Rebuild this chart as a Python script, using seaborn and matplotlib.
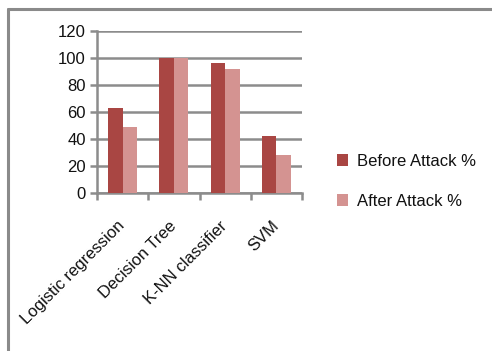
import matplotlib
matplotlib.use("Agg")
import matplotlib.pyplot as plt
from matplotlib.lines import Line2D
import seaborn as sns
import pandas as pd

categories = ["Logistic regression", "Decision Tree", "K-NN classifier", "SVM"]
before_attack = [63, 100, 96, 42]
after_attack = [49, 100, 92, 28]
series_names = ["Before Attack %", "After Attack %"]
y_ticks = [0, 20, 40, 60, 80, 100, 120]

df = pd.DataFrame({
    "model": categories * 2,
    "value": before_attack + after_attack,
    "series": [series_names[0]] * len(categories) + [series_names[1]] * len(categories),
})

sns.set_theme(style="white")
plt.rcParams["font.family"] = ["Liberation Sans", "DejaVu Sans"]

W, H = 492, 351
fig = plt.figure(figsize=(W / 100, H / 100), dpi=100)
ax = fig.add_axes([97 / W, 1 - 193 / H, (302 - 97) / W, (193 - 31) / H])

grid_col = "#8c8c8c"
text_col = "#111111"
palette = {series_names[0]: "#a94643", series_names[1]: "#d49391"}

sns.barplot(data=df, x="model", y="value", hue="series", palette=palette,
            width=0.57, saturation=1, linewidth=0, ax=ax, legend=True, zorder=3)

ax.set_ylim(0, 120)
ax.set_xlim(-0.5, len(categories) - 0.5)
ax.set_yticks(y_ticks)
ax.set_yticklabels([str(t) for t in y_ticks], fontsize=12, color=text_col)
ax.yaxis.grid(True, color=grid_col, linewidth=1.8, zorder=0)
ax.set_axisbelow(True)
ax.set_xlabel("")
ax.set_ylabel("")

for side in ["top", "right"]:
    ax.spines[side].set_visible(False)
for side in ["left", "bottom"]:
    ax.spines[side].set_color(grid_col)
    ax.spines[side].set_linewidth(1.8)

ax.tick_params(axis="y", which="major", length=5, width=1.8, color=grid_col,
               left=True, pad=3)
# category labels at centres, tick marks at category boundaries
ax.set_xticks(range(len(categories)))
ax.set_xticklabels(categories, rotation=45, ha="right", va="center",
                   rotation_mode="anchor", fontsize=12, color=text_col)
ax.tick_params(axis="x", which="major", length=0, pad=22)
ax.set_xticks([i - 0.5 for i in range(len(categories) + 1)], minor=True)
ax.tick_params(axis="x", which="minor", length=5, width=1.8, color=grid_col,
               bottom=True)

handles, labels = ax.get_legend_handles_labels()
leg = ax.legend(handles, labels, loc="center left", bbox_to_anchor=(330 / W, 1 - 181 / H),
                bbox_transform=fig.transFigure, frameon=False, fontsize=12,
                handlelength=0.7, handleheight=0.7, handletextpad=0.5,
                labelspacing=1.5, borderaxespad=0)
for t in leg.get_texts():
    t.set_color(text_col)

# outer chart border (top and left edges)
border_kw = dict(transform=fig.transFigure, color="#8a8a8a", linewidth=2.2)
fig.add_artist(Line2D([8 / W, 1.0], [1 - 9 / H, 1 - 9 / H], **border_kw))
fig.add_artist(Line2D([8 / W, 8 / W], [0.0, 1 - 9 / H], **border_kw))

fig.savefig("out.png", dpi=100)
